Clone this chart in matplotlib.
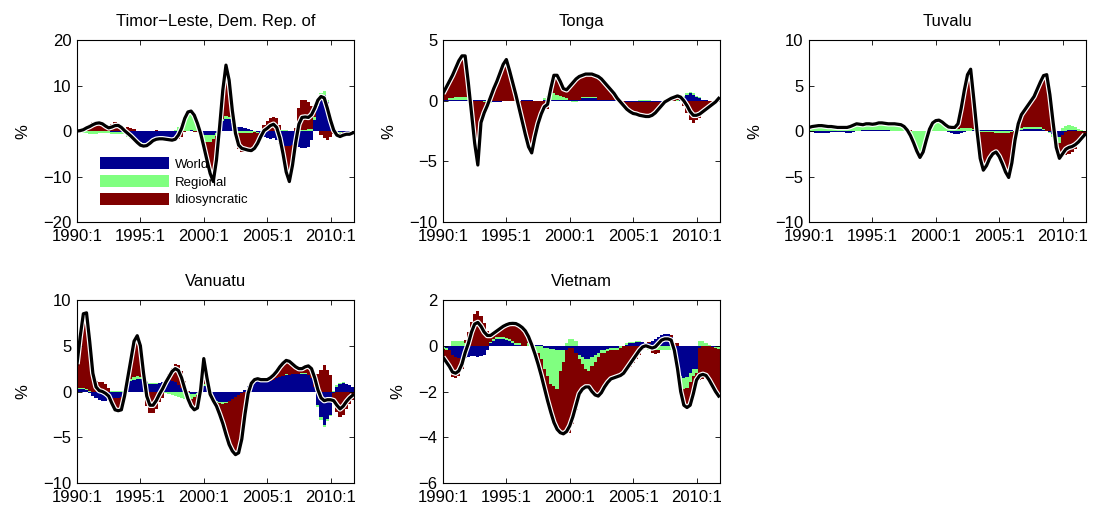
import numpy as np
import matplotlib
matplotlib.use("Agg")
import matplotlib.pyplot as plt
from matplotlib.patches import Patch

plt.rcParams['font.family'] = ['Liberation Sans', 'DejaVu Sans']

# Quarterly sample 1990:1 .. 2011:4 (88 quarters)
C_N_QUARTERS = 88
C_TICK_POS = [0, 20, 40, 60, 80]
C_TICK_LABELS = ["1990:1", "1995:1", "2000:1", "2005:1", "2010:1"]

# Factor colours (jet-like: world, regional, idiosyncratic)
C_COLORS = ["#00008f", "#80ff80", "#800000"]
C_FACTORS = ["World", "Regional", "Idiosyncratic"]

# Timor-Leste: total deviation and common components (%)
timor_total = [0.0, 0.1, 0.3, 0.7, 1.0, 1.4, 1.7, 1.8, 1.6, 1.1,
               0.7, 0.9, 1.2, 1.25, 0.8, 0.1, -0.5, -1.1, -1.8, -2.5,
               -3.1, -3.3, -3.2, -2.7, -2.1, -1.8, -1.7, -1.7, -1.8, -1.9,
               -2.0, -1.8, -0.9, 0.6, 2.8, 4.2, 4.4, 3.5, 1.7, -0.5,
               -3.4, -6.4, -9.3, -11.1, -6.4, 1.0, 9.0, 14.5, 11.2, 4.6,
               -0.5, -3.1, -3.8, -4.0, -4.2, -4.3, -3.8, -2.7, -1.2, 0.1,
               0.6, 1.2, 1.5, 0.8, -1.5, -5.0, -9.0, -11.1, -7.5, -2.5,
               1.5, 3.0, 3.1, 3.0, 3.6, 5.0, 6.8, 7.6, 7.3, 5.0,
               2.4, 0.2, -0.9, -1.2, -0.9, -0.7, -0.7, -0.4]
timor_world = [0.0, 0.1, 0.1, 0.1, 0.1, 0.1, 0.1, 0.1, 0.0, 0.0,
               0.0, -0.1, -0.1, -0.1, -0.2, -0.3, -1.0, -1.5, -1.9, -2.2,
               -2.5, -2.6, -2.6, -2.3, -2.0, -1.8, -1.6, -1.6, -1.6, -1.7,
               -1.7, -1.6, -0.8, -0.3, 0.0, 0.1, 0.2, 0.1, 0.0, -0.3,
               -0.8, -0.9, -0.9, -0.8, -0.5, 1.0, 2.2, 2.7, 2.6, 1.8,
               1.0, 0.9, 0.8, 0.6, 0.4, 0.2, 0.0, -0.3, -0.8, -1.3,
               -1.6, -1.7, -1.6, -2.0, -2.8, -3.2, -3.3, -3.3, -3.0, -3.2,
               -3.5, -3.8, -3.8, -3.5, -2.0, 2.5, 5.5, 7.5, 8.0, 6.5,
               3.5, 0.8, -0.2, -0.3, -0.3, -0.2, -0.1, -0.1]
timor_regional = [0.0, -0.2, -0.4, -0.5, -0.6, -0.6, -0.6, -0.5, -0.5, -0.5,
                  -0.5, -0.5, -0.6, -0.5, -0.4, -0.3, -0.3, -0.3, -0.3, -0.3,
                  -0.2, -0.2, -0.2, -0.2, -0.2, -0.2, -0.1, -0.1, -0.1, -0.1,
                  0.0, 0.2, 0.8, 1.8, 3.0, 4.0, 4.2, 3.5, 1.8, -0.3,
                  -1.2, -1.5, -1.5, -1.0, -0.5, 0.3, 0.5, 0.6, 0.5, 0.3,
                  -0.2, -0.4, -0.5, -0.5, -0.5, -0.4, -0.3, -0.2, -0.1, 0.0,
                  0.0, 0.1, 0.1, 0.1, 0.2, 0.2, 0.2, 0.1, 0.1, 0.1,
                  0.2, 0.2, 0.3, 0.4, 0.5, 0.6, 0.8, 0.9, 0.8, 0.4,
                  0.1, 0.0, -0.1, -0.1, 0.0, 0.0, 0.0, 0.0]

# Tonga
tonga_total = [0.6, 1.1, 1.6, 2.1, 2.7, 3.3, 3.7, 3.7, 1.5, -1.0,
               -3.5, -5.3, -1.8, -1.0, -0.4, 0.3, 1.0, 1.6, 2.3, 3.0,
               3.4, 2.5, 1.5, 0.5, -0.6, -1.7, -2.8, -3.8, -4.3, -3.0,
               -1.9, -1.1, -0.5, -0.3, 1.0, 2.1, 2.1, 1.6, 1.0, 0.9,
               1.2, 1.5, 1.8, 2.0, 2.1, 2.2, 2.2, 2.2, 2.1, 2.0,
               1.8, 1.5, 1.2, 0.9, 0.6, 0.2, -0.1, -0.4, -0.7, -0.9,
               -1.05, -1.1, -1.2, -1.25, -1.3, -1.3, -1.2, -1.0, -0.7, -0.4,
               -0.1, 0.05, 0.2, 0.3, 0.4, 0.3, 0.0, -0.4, -0.9, -1.2,
               -1.2, -1.1, -0.9, -0.7, -0.5, -0.3, -0.1, 0.2]
tonga_world = [0.1, 0.1, 0.1, 0.1, 0.1, 0.1, 0.1, 0.1, 0.1, 0.1,
               0.1, 0.1, 0.1, 0.1, 0.0, -0.1, -0.1, -0.1, -0.1, 0.0,
               0.0, 0.0, 0.0, 0.0, 0.0, 0.1, 0.1, 0.1, 0.1, 0.0,
               0.0, 0.0, 0.1, 0.1, 0.1, 0.1, 0.1, 0.1, 0.1, 0.1,
               0.1, 0.1, 0.1, 0.1, 0.2, 0.2, 0.2, 0.2, 0.2, 0.1,
               0.1, 0.1, 0.1, 0.1, 0.1, 0.0, 0.0, 0.0, -0.1, -0.1,
               -0.1, -0.1, -0.1, -0.1, -0.1, -0.1, -0.1, -0.1, -0.1, -0.1,
               -0.1, -0.1, 0.0, 0.0, 0.0, 0.1, 0.3, 0.5, 0.6, 0.5,
               0.3, 0.2, 0.1, 0.1, 0.0, 0.0, 0.0, 0.0]
tonga_regional = [0.0, 0.0, 0.1, 0.1, 0.2, 0.2, 0.2, 0.2, 0.1, 0.0,
                  0.0, 0.0, 0.0, -0.1, -0.1, -0.1, 0.0, 0.0, 0.0, 0.0,
                  0.0, 0.0, 0.0, 0.0, 0.0, 0.0, 0.0, 0.0, 0.0, 0.0,
                  0.0, 0.0, 0.1, 0.3, 0.5, 0.5, 0.4, 0.3, 0.2, 0.1,
                  0.0, -0.1, -0.1, 0.0, 0.1, 0.1, 0.1, 0.1, 0.1, 0.0,
                  0.0, 0.0, 0.0, 0.0, 0.0, 0.0, 0.0, 0.0, 0.0, 0.0,
                  0.0, 0.0, 0.1, 0.1, 0.1, 0.1, 0.0, 0.0, 0.0, 0.0,
                  0.0, 0.0, 0.0, 0.0, 0.1, 0.1, 0.1, 0.1, 0.1, 0.1,
                  0.1, 0.1, 0.0, 0.0, 0.0, 0.0, 0.0, 0.0]

# Tuvalu
tuvalu_total = [0.4, 0.5, 0.55, 0.6, 0.6, 0.55, 0.5, 0.5, 0.45, 0.4,
                0.4, 0.4, 0.4, 0.5, 0.65, 0.8, 0.75, 0.7, 0.8, 0.8,
                0.75, 0.8, 0.9, 0.9, 0.85, 0.8, 0.8, 0.8, 0.75, 0.7,
                0.5, 0.1, -0.5, -1.3, -2.2, -2.9, -2.3, -1.0, 0.2, 0.9,
                1.15, 1.2, 1.0, 0.7, 0.45, 0.4, 0.4, 0.8, 2.5, 4.5,
                6.2, 6.8, 3.5, 0.0, -3.0, -4.3, -3.8, -3.0, -2.5, -2.3,
                -2.8, -3.6, -4.5, -5.1, -3.5, -1.0, 0.8, 1.8, 2.3, 2.8,
                3.3, 3.8, 4.6, 5.4, 6.1, 6.2, 4.0, 1.0, -1.8, -3.0,
                -2.5, -2.0, -1.8, -1.7, -1.5, -1.2, -0.8, -0.4]
tuvalu_world = [-0.1, -0.1, -0.2, -0.2, -0.2, -0.2, -0.2, -0.1, -0.1, -0.1,
                -0.1, -0.1, -0.2, -0.2, -0.1, 0.0, 0.0, 0.1, 0.1, 0.1,
                0.1, 0.1, 0.1, 0.1, 0.1, 0.1, 0.0, 0.0, 0.0, 0.0,
                0.0, 0.0, 0.0, 0.0, 0.0, 0.0, 0.0, 0.0, 0.0, 0.0,
                0.0, 0.0, 0.0, 0.0, -0.1, -0.2, -0.3, -0.3, -0.2, -0.1,
                0.0, 0.0, 0.1, 0.1, 0.1, 0.1, 0.1, 0.1, 0.1, 0.1,
                0.1, 0.1, 0.1, 0.1, 0.1, 0.0, 0.1, 0.1, 0.2, 0.2,
                0.2, 0.2, 0.2, 0.2, 0.1, 0.0, -0.1, -0.3, -0.6, -0.7,
                -0.4, -0.1, 0.1, 0.1, 0.1, 0.0, 0.0, 0.0]
tuvalu_regional = [0.3, 0.3, 0.3, 0.3, 0.3, 0.3, 0.3, 0.3, 0.3, 0.3,
                   0.3, 0.3, 0.3, 0.4, 0.5, 0.6, 0.6, 0.5, 0.6, 0.6,
                   0.6, 0.7, 0.7, 0.7, 0.7, 0.7, 0.7, 0.7, 0.6, 0.6,
                   0.3, -0.1, -0.6, -1.3, -2.1, -2.8, -2.3, -1.0, 0.2, 0.9,
                   1.1, 1.1, 0.9, 0.6, 0.3, 0.2, 0.2, 0.2, 0.3, 0.3,
                   0.3, 0.3, 0.1, 0.0, -0.1, -0.1, -0.1, -0.1, -0.1, -0.2,
                   -0.2, -0.2, -0.2, -0.2, -0.1, 0.0, 0.1, 0.2, 0.2, 0.3,
                   0.3, 0.3, 0.3, 0.2, 0.1, 0.0, -0.1, -0.4, -0.6, -0.6,
                   0.3, 0.6, 0.6, 0.5, 0.4, 0.2, 0.1, 0.0]

# Vanuatu
vanuatu_total = [3.0, 6.0, 8.5, 8.6, 5.5, 2.0, 0.5, 0.1, 0.0, -0.2,
                 -0.5, -1.3, -2.0, -2.1, -2.0, -0.5, 1.5, 3.5, 5.5, 6.1,
                 5.0, 2.0, -0.5, -1.5, -1.5, -1.0, -0.3, 0.3, 1.0, 1.6,
                 2.2, 2.5, 2.3, 1.5, 0.3, -0.8, -1.6, -2.0, -1.8, 0.2,
                 3.6, 1.5, -0.3, -1.0, -1.6, -2.5, -3.5, -4.7, -5.8, -6.5,
                 -6.9, -6.7, -5.2, -2.5, -0.2, 0.9, 1.3, 1.4, 1.3, 1.3,
                 1.3, 1.5, 1.8, 2.2, 2.7, 3.1, 3.4, 3.3, 3.0, 2.7,
                 2.5, 2.5, 2.7, 2.8, 2.5, 1.5, 0.2, -0.7, -1.0, -0.9,
                 -0.9, -1.0, -1.5, -1.9, -1.6, -1.1, -0.7, -0.4]
vanuatu_world = [0.3, 0.3, 0.3, 0.2, -0.2, -0.5, -0.7, -0.9, -1.0, -1.0,
                 -0.9, -0.8, -0.7, -0.7, -0.6, 0.2, 0.8, 1.1, 1.3, 1.4,
                 1.4, 1.3, 1.0, 0.8, 0.8, 0.8, 0.9, 1.0, 1.2, 1.3,
                 1.2, 1.0, 0.7, 0.4, 0.1, -0.2, -0.3, -0.3, -0.2, 0.2,
                 0.6, 0.6, 0.2, -0.6, -1.0, -1.1, -1.2, -1.2, -1.0, -0.8,
                 -0.6, -0.4, -0.2, 0.2, 0.6, 1.0, 1.1, 1.2, 1.1, 1.0,
                 1.0, 1.1, 1.3, 1.5, 1.6, 1.7, 1.8, 1.8, 1.9, 1.9,
                 1.9, 1.9, 1.9, 1.8, 1.5, 0.5, -1.5, -2.8, -3.7, -3.0,
                 -2.6, -0.2, 0.5, 0.8, 0.9, 0.8, 0.7, 0.5]
vanuatu_regional = [0.1, 0.1, 0.1, 0.1, 0.1, 0.0, 0.0, 0.0, 0.0, 0.0,
                    0.0, 0.1, 0.1, 0.1, 0.1, 0.1, 0.2, 0.3, 0.3, 0.3,
                    0.2, 0.1, 0.1, 0.1, 0.1, 0.1, 0.0, -0.1, -0.2, -0.3,
                    -0.4, -0.5, -0.6, -0.7, -0.8, -0.7, -0.5, -0.3, -0.2, 0.0,
                    0.2, 0.3, 0.1, 0.0, -0.1, -0.2, -0.2, -0.1, 0.0, 0.0,
                    0.0, 0.0, 0.0, 0.0, 0.0, 0.0, 0.0, 0.0, 0.0, 0.0,
                    0.0, 0.0, 0.0, 0.0, 0.0, 0.0, 0.1, 0.0, -0.1, 0.0,
                    0.0, 0.1, 0.1, 0.0, 0.0, -0.1, -0.2, -0.3, -0.2, -0.2,
                    -0.1, 0.1, 0.2, 0.1, 0.1, 0.0, 0.0, 0.0]

# Vietnam
vietnam_total = [-0.5, -0.7, -0.9, -1.15, -1.2, -1.1, -0.8, -0.3, 0.1, 0.6,
                 0.95, 1.02, 0.85, 0.6, 0.45, 0.45, 0.55, 0.65, 0.75, 0.85,
                 0.92, 0.97, 0.98, 0.97, 0.9, 0.8, 0.65, 0.4, 0.05, -0.35,
                 -0.8, -1.3, -1.85, -2.4, -2.9, -3.35, -3.65, -3.8, -3.85, -3.75,
                 -3.5, -3.1, -2.6, -2.1, -1.9, -1.8, -1.8, -2.0, -2.15, -2.2,
                 -2.05, -1.8, -1.6, -1.45, -1.4, -1.35, -1.3, -1.2, -1.0, -0.8,
                 -0.6, -0.4, -0.2, -0.05, 0.0, -0.05, -0.1, -0.05, 0.1, 0.25,
                 0.3, 0.3, 0.25, -0.2, -1.0, -2.0, -2.6, -2.7, -2.6, -2.1,
                 -1.5, -1.3, -1.25, -1.3, -1.5, -1.75, -2.0, -2.2]
vietnam_world = [-0.05, -0.1, -0.2, -0.4, -0.5, -0.55, -0.6, -0.55, -0.5, -0.45,
                 -0.45, -0.5, -0.45, -0.4, -0.2, 0.1, 0.2, 0.3, 0.3, 0.3,
                 0.25, 0.2, 0.1, 0.05, 0.05, 0.0, 0.0, 0.0, 0.0, 0.05,
                 0.05, 0.05, -0.1, -0.1, -0.15, -0.15, -0.2, -0.2, -0.2, -0.2,
                 -0.1, -0.1, -0.3, -0.4, -0.5, -0.6, -0.6, -0.5, -0.4, -0.3,
                 -0.2, -0.2, -0.15, -0.1, -0.1, -0.1, 0.0, 0.0, 0.05, 0.1,
                 0.1, 0.15, 0.15, 0.15, 0.1, 0.1, 0.2, 0.3, 0.4, 0.45,
                 0.5, 0.5, 0.4, -0.2, -0.8, -1.3, -1.4, -1.35, -1.2, -1.0,
                 -1.0, -0.1, 0.0, 0.0, 0.0, -0.05, -0.05, -0.05]
vietnam_regional = [-0.1, -0.1, 0.0, 0.2, 0.2, 0.2, 0.2, 0.1, 0.0, 0.0,
                    0.0, 0.0, 0.0, 0.0, 0.0, 0.05, 0.1, 0.1, 0.1, 0.1,
                    0.1, 0.1, 0.1, 0.05, 0.05, 0.0, 0.0, 0.1, 0.1, -0.1,
                    -0.3, -0.6, -0.9, -1.2, -1.5, -1.6, -1.7, -0.9, -0.5, 0.1,
                    0.3, 0.3, 0.2, -0.2, -0.3, -0.4, -0.5, -0.4, -0.3, -0.2,
                    -0.1, -0.1, -0.1, -0.1, -0.1, -0.1, -0.1, 0.0, 0.05, 0.05,
                    0.05, 0.05, 0.05, 0.0, -0.1, -0.2, -0.2, -0.2, -0.2, -0.2,
                    -0.2, -0.2, -0.2, -0.1, -0.3, -0.4, -0.5, -0.5, -0.4, -0.3,
                    -0.2, 0.2, 0.2, 0.1, 0.05, 0.0, -0.05, -0.1]

countries = ["Timor\u2212Leste, Dem. Rep. of", "Tonga", "Tuvalu", "Vanuatu", "Vietnam"]
totals = [timor_total, tonga_total, tuvalu_total, vanuatu_total, vietnam_total]
worlds = [timor_world, tonga_world, tuvalu_world, vanuatu_world, vietnam_world]
regionals = [timor_regional, tonga_regional, tuvalu_regional, vanuatu_regional, vietnam_regional]
ylims = [(-20, 20), (-10, 5), (-10, 10), (-10, 10), (-6, 2)]
ysteps = [10, 5, 5, 5, 2]

# Axes rectangles in figure fractions
C_POSITIONS = [(0.0702, 0.568, 0.2525, 0.354),
               (0.4038, 0.568, 0.2525, 0.354),
               (0.7375, 0.568, 0.2525, 0.354),
               (0.0702, 0.0603, 0.2525, 0.356),
               (0.4038, 0.0603, 0.2525, 0.356)]


def stacked_bars(ax, x, parts):
    # positive and negative contributions are stacked separately
    pos_base = np.zeros(len(x))
    neg_base = np.zeros(len(x))
    for part, color in zip(parts, C_COLORS):
        pos = np.where(part > 0, part, 0.0)
        neg = np.where(part < 0, part, 0.0)
        ax.bar(x, pos, width=1.0, bottom=pos_base, color=color,
               linewidth=0, antialiased=False)
        ax.bar(x, neg, width=1.0, bottom=neg_base, color=color,
               linewidth=0, antialiased=False)
        pos_base += pos
        neg_base += neg


fig = plt.figure(figsize=(10.97, 5.14), dpi=100)
x = np.arange(C_N_QUARTERS)

for k in range(5):
    ax = fig.add_axes(C_POSITIONS[k])
    total = np.array(totals[k])
    world = np.array(worlds[k])
    regional = np.array(regionals[k])
    # idiosyncratic part is whatever the common factors leave of the total
    idio = total - world - regional

    stacked_bars(ax, x, [world, regional, idio])
    ax.plot(x, total, color="white", linewidth=4.0, solid_capstyle="butt")
    ax.plot(x, total, color="black", linewidth=2.3)

    ax.set_xlim(0, 87.4)
    lo, hi = ylims[k]
    ax.set_ylim(lo, hi)
    ax.set_yticks(np.arange(lo, hi + 0.1, ysteps[k]))
    ax.set_xticks(C_TICK_POS)
    ax.set_xticklabels(C_TICK_LABELS)
    ax.tick_params(direction="in", top=True, right=True, length=3.5,
                   width=0.6, labelsize=12)
    ax.tick_params(axis="x", pad=5)
    ax.tick_params(axis="y", pad=4)
    for sp in ax.spines.values():
        sp.set_linewidth(0.8)
    ax.set_title(countries[k], fontsize=12, pad=10)
    ax.set_ylabel("%", fontsize=12, labelpad=9)

    if k == 0:
        handles = [Patch(facecolor=c, edgecolor="none") for c in C_COLORS]
        ax.legend(handles, C_FACTORS, loc="upper left",
                  bbox_to_anchor=(0.083, 0.355), frameon=False,
                  fontsize=9.5, handlelength=5.2, handleheight=1.0,
                  handletextpad=0.5, labelspacing=0.33, borderpad=0,
                  borderaxespad=0)

plt.savefig("out.png", dpi=100)
